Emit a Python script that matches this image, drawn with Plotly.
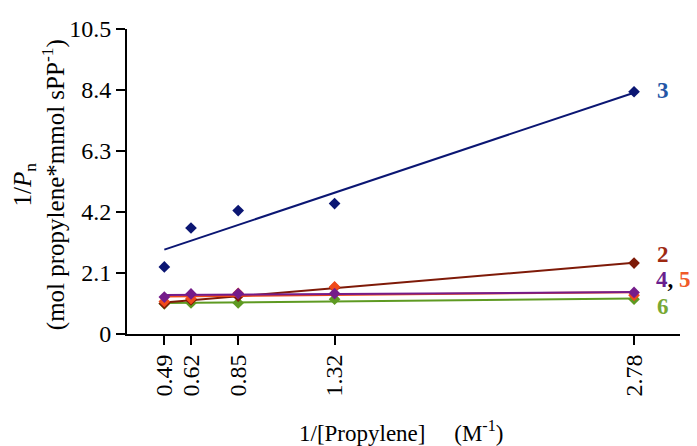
import numpy as np
import plotly.graph_objects as go

# Data
x_vals = [0.49, 0.62, 0.85, 1.32, 2.78]
x_ticklabels = ["0.49", "0.62", "0.85", "1.32", "2.78"]
y_ticks = [0, 2.1, 4.2, 6.3, 8.4, 10.5]
y_ticklabels = ["0", "2.1", "4.2", "6.3", "8.4", "10.5"]

s2 = [1.05, 1.17, 1.30, 1.60, 2.44]
s3 = [2.31, 3.65, 4.25, 4.49, 8.34]
s4 = [1.27, 1.38, 1.39, 1.39, 1.43]
s5 = [1.12, 1.22, 1.40, 1.62, 1.33]
s6 = [1.04, 1.07, 1.07, 1.20, 1.20]

series = [
    ("6", s6, "#5E9A22", "#78A834"),
    ("2", s2, "#7E1A08", "#9E2A12"),
    ("5", s5, "#F04A1A", "#F05A28"),
    ("4", s4, "#741C8A", "#6A1F8E"),
    ("3", s3, "#0B1673", "#2456A6"),
]

fig = go.Figure()
xs = np.array(x_vals)
for name, ys, col, lab in series:
    m, b = np.polyfit(xs, np.array(ys), 1)
    xl = [xs.min(), xs.max()]
    fig.add_trace(go.Scatter(x=xl, y=[m * v + b for v in xl], mode="lines",
                             line=dict(color=col, width=2), showlegend=False,
                             hoverinfo="skip"))
    fig.add_trace(go.Scatter(x=x_vals, y=ys, mode="markers",
                             marker=dict(symbol="diamond", size=9, color=col),
                             showlegend=False, name=name))

font_main = "Liberation Serif"

fig.update_layout(
    width=697, height=446,
    margin=dict(l=127, r=17, t=29, b=112),
    plot_bgcolor="white", paper_bgcolor="white",
    font=dict(family=font_main, size=23, color="black"),
    xaxis=dict(range=[0.308, 3.004], tickvals=x_vals, ticktext=x_ticklabels,
               tickangle=-90, ticks="outside", ticklen=9, tickwidth=2,
               tickcolor="black", showline=True, linecolor="black", linewidth=2,
               showgrid=False, zeroline=False,
               tickfont=dict(family=font_main, size=24)),
    yaxis=dict(range=[0, 10.5], tickvals=y_ticks, ticktext=y_ticklabels,
               ticks="outside", ticklen=9, tickwidth=2, tickcolor="black",
               showline=True, linecolor="black", linewidth=2,
               showgrid=False, zeroline=False,
               tickfont=dict(family=font_main, size=24)),
)

# Axis titles
fig.add_annotation(
    text="1/<i>P</i><sub>n</sub><br>(mol propylene*mmol sPP<sup>-1</sup>)",
    xref="paper", yref="paper", x=-0.158, y=0.49, textangle=-90,
    showarrow=False, font=dict(family=font_main, size=25, color="black"),
    xanchor="center", yanchor="middle")
fig.add_annotation(
    text="1/[Propylene]&nbsp;&nbsp;&nbsp;&nbsp;&nbsp;(M<sup>-1</sup>)",
    xref="paper", yref="paper", x=0.495, y=-0.32, showarrow=False,
    font=dict(family=font_main, size=23, color="black"),
    xanchor="center", yanchor="middle")

# Series labels
lab_pos = {"3": 8.4, "2": 2.75, "6": 0.95}
for name, ys, col, lab in series:
    if name in lab_pos:
        fig.add_annotation(text="<b>%s</b>" % name, xref="x", yref="y",
                           x=2.92, y=lab_pos[name], showarrow=False,
                           font=dict(family=font_main, size=23, color=lab))
fig.add_annotation(
    text="<b><span style='color:#6A1F8E'>4</span>, <span style='color:#F05A28'>5</span></b>",
    xref="x", yref="y", x=2.876, y=1.87, showarrow=False, xanchor="left",
    font=dict(family=font_main, size=23, color="black"))

fig.write_html("out.html")
